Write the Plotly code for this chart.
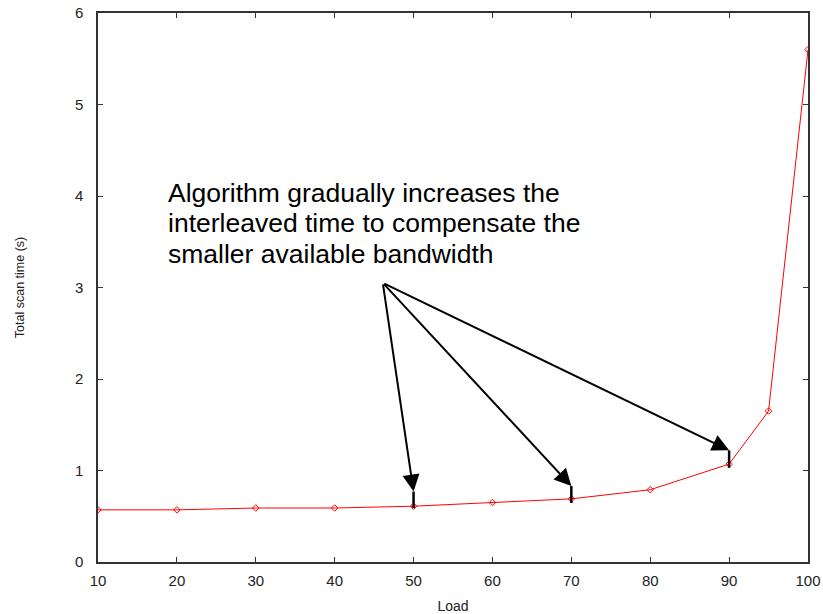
import plotly.graph_objects as go

load = [10, 20, 30, 40, 50, 60, 70, 80, 90, 95, 100]
scan_time = [0.57, 0.57, 0.59, 0.59, 0.61, 0.65, 0.69, 0.79, 1.07, 1.65, 5.6]

note_lines = ["Algorithm gradually increases the",
              "interleaved time to compensate the",
              "smaller available bandwidth"]
note_y = [4.033, 3.705, 3.366]
arrow_tail = (46.1, 3.05)
arrow_x = [50, 70, 90]
arrow_tip_y = [0.77, 0.83, 1.22]
stem_bottom_y = [0.59, 0.645, 1.03]

FONT = "Liberation Sans, Arial, Helvetica, sans-serif"

fig = go.Figure()
fig.add_trace(go.Scatter(
    x=load, y=scan_time, mode="lines+markers",
    line=dict(color="#ff0000", width=1),
    marker=dict(symbol="diamond-open", size=5, color="#ff0000", line=dict(width=1)),
    showlegend=False,
))

for xv, ty, by in zip(arrow_x, arrow_tip_y, stem_bottom_y):
    fig.add_shape(type="line", x0=xv, x1=xv, y0=ty, y1=by, xref="x", yref="y",
                  line=dict(color="black", width=2.5))
    fig.add_annotation(x=xv, y=ty, ax=arrow_tail[0], ay=arrow_tail[1],
                       xref="x", yref="y", axref="x", ayref="y",
                       text="", showarrow=True, arrowhead=2, arrowsize=1.7,
                       arrowwidth=2, arrowcolor="black", standoff=0)

for line, yv in zip(note_lines, note_y):
    fig.add_annotation(x=18.62, y=yv, xref="x", yref="y", text=line,
                       showarrow=False, xanchor="left", yanchor="middle", align="left",
                       font=dict(family=FONT, size=26.5, color="black"))

axis_common = dict(showgrid=False, zeroline=False, showline=True, linecolor="#333333",
                   linewidth=1.5, ticks="inside", ticklen=5, tickcolor="#333333",
                   mirror="ticks", automargin=False,
                   tickfont=dict(family=FONT, size=15, color="#222222"))

fig.update_xaxes(range=[10, 100], tickvals=list(range(10, 101, 10)), ticklabelstandoff=4,
                 title=dict(text="Load", font=dict(family=FONT, size=14, color="#222222"), standoff=17),
                 **axis_common)
fig.update_yaxes(range=[0, 6], tickvals=list(range(0, 7)), ticklabelstandoff=10,
                 title=dict(text="Total scan time (s)", font=dict(family=FONT, size=12.5, color="#222222"), standoff=48),
                 **axis_common)

fig.update_layout(width=823, height=614, margin=dict(l=98, r=15, t=13, b=52),
                  plot_bgcolor="white", paper_bgcolor="white")

fig.write_html("out.html")
